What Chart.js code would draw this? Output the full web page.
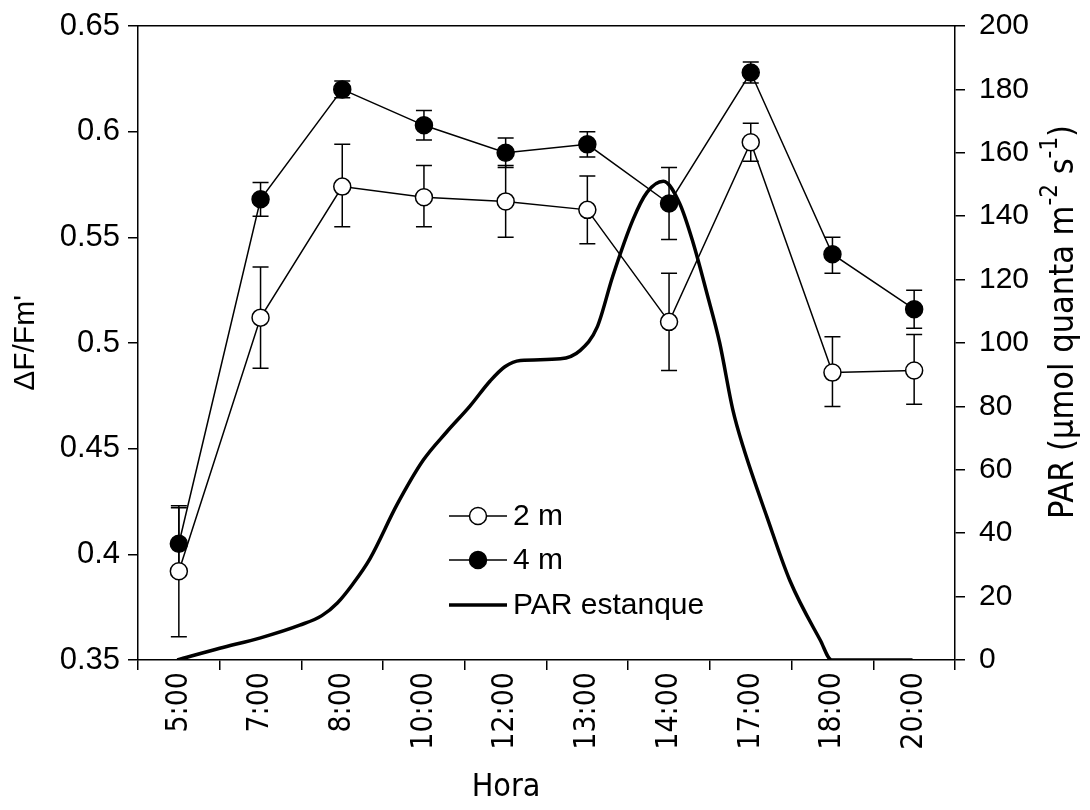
<!DOCTYPE html>
<html>
<head>
<meta charset="utf-8">
<script src="https://cdn.jsdelivr.net/npm/chart.js@4.4.1/dist/chart.umd.min.js"></script>
<style>
  body { margin: 0; background: #fff; }
  #wrap { width: 1090px; height: 810px; position: relative; }
</style>
</head>
<body>
<div id="wrap"><canvas id="chart"></canvas></div>
<script>
// sampling hours
const horas = ["5:00", "7:00", "8:00", "10:00", "12:00", "13:00", "14:00", "17:00", "18:00", "20:00"];

// ΔF/Fm' at 2 m, with lower / upper ends of the error bars
const fv2m = [0.392, 0.512, 0.574, 0.569, 0.567, 0.563, 0.510, 0.595, 0.486, 0.487];
const fv2mLo = [0.361, 0.488, 0.555, 0.555, 0.550, 0.547, 0.487, 0.586, 0.470, 0.471];
const fv2mHi = [0.422, 0.536, 0.594, 0.584, 0.584, 0.579, 0.533, 0.604, 0.503, 0.504];

// ΔF/Fm' at 4 m
const fv4m = [0.405, 0.568, 0.620, 0.603, 0.590, 0.594, 0.566, 0.628, 0.542, 0.516];
const fv4mLo = [0.390, 0.560, 0.616, 0.596, 0.583, 0.588, 0.549, 0.623, 0.533, 0.507];
const fv4mHi = [0.423, 0.576, 0.624, 0.610, 0.597, 0.600, 0.583, 0.633, 0.550, 0.525];

// PAR in the pond, position along the hour axis (index units) and value
const parPos = [-0.02, 0.5, 1.0, 1.48, 1.75, 1.94, 2.13, 2.34, 2.67, 2.99, 3.28, 3.56, 3.81, 3.99, 4.18, 4.67,
  4.91, 5.12, 5.31, 5.56, 5.73, 5.93, 6.13, 6.29, 6.46, 6.62, 6.78, 6.91, 7.2, 7.48, 7.85, 7.99, 8.98];
const parVal = [0, 3.7, 7, 11, 14, 18, 24, 32, 49, 63, 72, 80, 88, 92.5, 94.5, 95,
  97.6, 105, 121, 139, 147.5, 151, 144, 132, 116, 100, 79, 67, 45, 25, 6.3, 0, 0];

// tick labels
const fvTicks = [0.35, 0.4, 0.45, 0.5, 0.55, 0.6, 0.65];
const parTicks = [0, 20, 40, 60, 80, 100, 120, 140, 160, 180, 200];

const FONT = "'Liberation Sans', Arial, sans-serif";
const NARROW = "'Liberation Sans Narrow', 'DejaVu Sans Condensed', 'Liberation Sans', Arial, sans-serif";

const errorBars = {
  id: "errorBars",
  beforeDatasetsDraw(chart) {
    const ctx = chart.ctx;
    const x = chart.scales.x;
    const y = chart.scales.y;
    ctx.save();
    ctx.strokeStyle = "#000";
    ctx.lineWidth = 1.5;
    [[fv2mLo, fv2mHi], [fv4mLo, fv4mHi]].forEach(([lo, hi]) => {
      lo.forEach((v, i) => {
        const px = x.getPixelForValue(i);
        const y1 = y.getPixelForValue(v);
        const y2 = y.getPixelForValue(hi[i]);
        ctx.beginPath();
        ctx.moveTo(px, y1);
        ctx.lineTo(px, y2);
        ctx.moveTo(px - 8, y1);
        ctx.lineTo(px + 8, y1);
        ctx.moveTo(px - 8, y2);
        ctx.lineTo(px + 8, y2);
        ctx.stroke();
      });
    });
    ctx.restore();
  },
};

const legendBox = {
  id: "legendBox",
  afterDraw(chart) {
    const ctx = chart.ctx;
    const rows = [516, 560, 605];
    ctx.save();
    ctx.font = "30px " + FONT;
    ctx.textBaseline = "middle";
    ctx.fillStyle = "#000";
    chart.data.datasets.forEach((ds, i) => {
      const ry = rows[i];
      ctx.strokeStyle = "#000";
      ctx.lineWidth = ds.borderWidth;
      ctx.beginPath();
      ctx.moveTo(449, ry);
      ctx.lineTo(507, ry);
      ctx.stroke();
      if (ds.pointRadius > 0) {
        ctx.lineWidth = 1.5;
        ctx.beginPath();
        ctx.arc(478, ry, ds.pointRadius, 0, Math.PI * 2);
        ctx.fillStyle = ds.pointBackgroundColor;
        ctx.fill();
        ctx.stroke();
      }
      ctx.fillStyle = "#000";
      ctx.fillText(ds.label, 513, ry + 1);
    });
    ctx.restore();
  },
};

// "Hora" and the PAR title (read bottom to top, with superscripts)
const axisTitles = {
  id: "axisTitles",
  afterDraw(chart) {
    const ctx = chart.ctx;
    ctx.save();
    ctx.fillStyle = "#000";
    ctx.textBaseline = "middle";
    ctx.textAlign = "center";
    ctx.font = "32px " + NARROW;
    ctx.fillText("Hora", 506, 788);

    const parts = [
      ["PAR (µmol quanta m", 34, 0],
      ["-2", 24, -13],
      [" s", 34, 0],
      ["-1", 24, -13],
      [")", 34, 0],
    ];
    let total = 0;
    parts.forEach(([t, size]) => {
      ctx.font = size + "px " + NARROW;
      total += ctx.measureText(t).width;
    });
    ctx.translate(1064, 322);
    ctx.rotate(-Math.PI / 2);
    ctx.textAlign = "left";
    let cx = -total / 2;
    parts.forEach(([t, size, dy]) => {
      ctx.font = size + "px " + NARROW;
      ctx.fillText(t, cx, dy);
      cx += ctx.measureText(t).width;
    });
    ctx.restore();
  },
};

new Chart(document.getElementById("chart"), {
  type: "line",
  data: {
    labels: horas,
    datasets: [
      {
        label: "2 m",
        data: fv2m,
        yAxisID: "y",
        borderColor: "#000",
        borderWidth: 1.5,
        pointRadius: 8.5,
        pointBorderWidth: 1.5,
        pointBackgroundColor: "#fff",
        pointBorderColor: "#000",
        order: 1,
      },
      {
        label: "4 m",
        data: fv4m,
        yAxisID: "y",
        borderColor: "#000",
        borderWidth: 1.5,
        pointRadius: 8.5,
        pointBorderWidth: 1.5,
        pointBackgroundColor: "#000",
        pointBorderColor: "#000",
        order: 0,
      },
      {
        label: "PAR estanque",
        data: parPos.map((p, i) => ({ x: p, y: parVal[i] })),
        xAxisID: "xPar",
        yAxisID: "yPar",
        borderColor: "#000",
        borderWidth: 3.5,
        pointRadius: 0,
        tension: 0.4,
        cubicInterpolationMode: "monotone",
        order: 2,
      },
    ],
  },
  options: {
    responsive: true,
    maintainAspectRatio: false,
    animation: false,
    layout: { padding: { top: 10, left: 0, right: 0, bottom: 0 } },
    plugins: {
      legend: { display: false },
      tooltip: { enabled: false },
    },
    scales: {
      x: {
        type: "category",
        position: "bottom",
        offset: true,
        afterFit: (s) => { s.height = 150; },
        grid: { offset: true, drawOnChartArea: false, tickLength: 10, color: "#000", lineWidth: 1.5 },
        border: { color: "#000", width: 1.5 },
        ticks: { color: "#000", minRotation: 90, maxRotation: 90, padding: 2, font: { family: NARROW, size: 30 } },
      },
      top: {
        type: "category",
        position: "top",
        labels: horas,
        afterFit: (s) => { s.height = 0; },
        grid: { display: false },
        ticks: { display: false },
        border: { color: "#000", width: 1.5 },
      },
      xPar: {
        type: "linear",
        display: false,
        min: -0.5,
        max: 9.5,
      },
      y: {
        type: "linear",
        position: "left",
        min: 0.35,
        max: 0.65,
        afterFit: (s) => { s.width = 138; },
        afterBuildTicks: (s) => { s.ticks = fvTicks.map((v) => ({ value: v })); },
        grid: { drawOnChartArea: false, tickLength: 10, color: "#000", lineWidth: 1.5 },
        border: { color: "#000", width: 1.5 },
        ticks: { color: "#000", padding: 8, font: { family: FONT, size: 31, lineHeight: 0.8 }, callback: (v) => String(v) },
        title: { display: true, text: "ΔF/Fm'", color: "#000", padding: { top: 8, bottom: 0 }, font: { family: FONT, size: 30 } },
      },
      yPar: {
        type: "linear",
        position: "right",
        min: 0,
        max: 200,
        afterFit: (s) => { s.width = 135; },
        afterBuildTicks: (s) => { s.ticks = parTicks.map((v) => ({ value: v })); },
        grid: { drawOnChartArea: false, tickLength: 10, color: "#000", lineWidth: 1.5 },
        border: { color: "#000", width: 1.5 },
        ticks: { color: "#000", padding: 14, font: { family: FONT, size: 30, lineHeight: 0.8 }, callback: (v) => String(v) },
      },
    },
  },
  plugins: [errorBars, legendBox, axisTitles],
});
</script>
</body>
</html>
